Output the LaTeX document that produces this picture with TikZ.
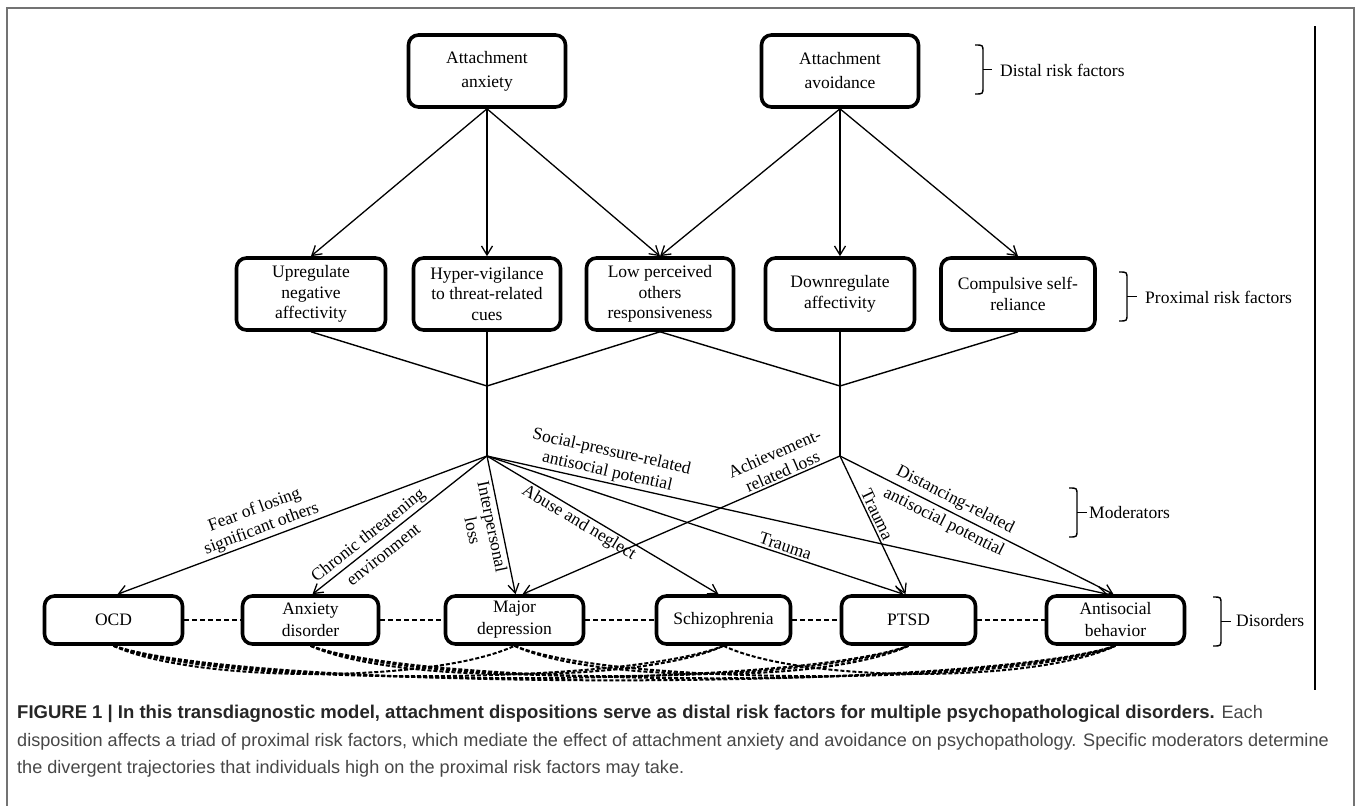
\documentclass[tikz,border=0pt]{standalone}
\usepackage{fontspec}
\setmainfont{Liberation Serif}
\newfontfamily\capfont{Liberation Sans}
\usetikzlibrary{arrows.meta,calc}
\newcommand\mybrace[4]{% x, top, bottom, tick end
  \draw[brk] ({#1-8},#2) .. controls ({#1},#2) .. ({#1},{#2+7}) -- ({#1},{#3-7}) .. controls ({#1},#3) .. ({#1-8},#3);
  \draw[brk] (#1,{(#2+#3)/2}) -- (#4,{(#2+#3)/2});
}
\begin{document}
\begin{tikzpicture}[x=1pt,y=-1pt,
 box/.style={draw, line width=3.6pt, rounded corners=10pt, align=center, inner sep=2pt, font=\fontsize{17.5}{20.5}\selectfont},
 topbox/.style={box, font=\fontsize{17.5}{24}\selectfont},
 disbox/.style={box, font=\fontsize{17.5}{22}\selectfont},
 conn/.style={line width=1.4pt},
 arr/.style={line width=1.3pt, -{Straight Barb[length=9pt,width=11pt,line width=1.3pt]}},
 lab/.style={font=\fontsize{17.5}{20}\selectfont, align=center, sloped, inner sep=2pt},
 labc/.style={font=\fontsize{17.5}{25}\selectfont, align=center, sloped, inner sep=0pt},
 hdash/.style={line width=1.3pt, dash pattern=on 5pt off 3pt},
 cdash/.style={line width=2pt, dash pattern=on 4pt off 2pt},
 brk/.style={line width=1.4pt},
 side/.style={font=\fontsize{17.5}{20}\selectfont, anchor=west, inner sep=0pt},
 capt/.style={font=\capfont\fontsize{18.1}{22}\selectfont, anchor=base west, inner sep=0pt, text=black!72}
]
\fill[white] (0,0) rectangle (1358,806);
\useasboundingbox (0,0) rectangle (1358,806);
% frame
\draw[black!55, line width=1.5pt] (7,806) -- (7,8) -- (1354,8) -- (1354,806);
\draw[line width=1.5pt] (1315,26) -- (1315,690);

% distal
\node[topbox, minimum width=157, minimum height=72] (anx) at (487,71) {Attachment\\anxiety};
\node[topbox, minimum width=157, minimum height=72] (avo) at (840,71) {Attachment\\avoidance};

% proximal
\node[box, minimum width=149, minimum height=72] (up)  at (311,294) {Upregulate\\negative\\affectivity};
\node[box, minimum width=147, minimum height=72] (hyp) at (487,294) {Hyper-vigilance\\to threat-related\\cues};
\node[box, minimum width=147, minimum height=72] (low) at (660,294) {Low perceived\\others\\responsiveness};
\node[box, minimum width=149, minimum height=72] (dwn) at (840,294) {Downregulate\\affectivity};
\node[box, minimum width=154, minimum height=72] (cmp) at (1018,294) {Compulsive self-\\reliance};

% disorders
\node[disbox, minimum width=138, minimum height=48] (ocd)  at (113.5,620) {OCD};
\node[disbox, minimum width=136, minimum height=48] (anxd) at (310.5,620) {Anxiety\\disorder};
\node[disbox, minimum width=138, minimum height=48] (maj)  at (514.5,620) {Major\\depression};
\node[disbox, minimum width=134, minimum height=48] (sch)  at (723.5,620) {Schizophrenia};
\node[disbox, minimum width=134, minimum height=48] (pts)  at (908.5,620) {PTSD};
\node[disbox, minimum width=138, minimum height=48] (ant)  at (1115.5,620) {Antisocial\\behavior};

% junctions
\coordinate (jL) at (487,386);
\coordinate (jR) at (840,386);
\coordinate (fL) at (487,456);
\coordinate (fR) at (840,456);

% distal -> proximal
\draw[arr] (anx.south) -- (up.north);
\draw[arr] (anx.south) -- (hyp.north);
\draw[arr] (anx.south) -- (low.north);
\draw[arr] (avo.south) -- (low.north);
\draw[arr] (avo.south) -- (dwn.north);
\draw[arr] (avo.south) -- (cmp.north);

% proximal -> junctions
\draw[conn] (up.south) -- (jL);
\draw[conn] (hyp.south) -- (jL);
\draw[conn] (low.south) -- (jL);
\draw[conn] (low.south) -- (jR);
\draw[conn] (dwn.south) -- (jR);
\draw[conn] (cmp.south) -- (jR);
\draw[conn] (jL) -- (fL);
\draw[conn] (jR) -- (fR);

% moderators
\draw[arr] (fL) -- ([xshift=4]ocd.north) node[lab, above, pos=0.6] {Fear of losing\\significant others};
\draw[arr] (fL) -- ([xshift=2]anxd.north) node[labc, pos=0.64] {Chronic threatening\\environment};
\draw[arr] (fL) -- ([xshift=1]maj.north) node[lab, below, pos=0.5] {Interpersonal\\loss};
\draw[arr] (fL) -- ([xshift=-5]sch.north) node[lab, below, pos=0.42] {Abuse and neglect};
\draw[arr] (fL) -- ([xshift=-5]pts.north) node[lab, above, pos=0.71] {Trauma};
\draw[arr] (fL) -- ([xshift=-8]ant.north) node[lab, above, pos=0.19] {Social-pressure-related\\antisocial potential};
\draw[arr] (fR) -- ([xshift=8]maj.north) node[lab, above, pos=0.17] {Achievement-\\related loss};
\draw[arr] (fR) -- ([xshift=-3]pts.north) node[lab, above, pos=0.45] {Trauma};
\draw[arr] (fR) -- ([xshift=-2]ant.north) node[labc, pos=0.4] {Distancing-related\\antisocial potential};

% dashed links
\draw[hdash] (ocd.east) -- (anxd.west);
\draw[hdash] (anxd.east) -- (maj.west);
\draw[hdash] (maj.east) -- (sch.west);
\draw[hdash] (sch.east) -- (pts.west);
\draw[hdash] (pts.east) -- (ant.west);
\foreach \a/\b/\s in {ocd/maj/401, ocd/sch/610, ocd/pts/795, ocd/ant/1002, anxd/sch/413, anxd/pts/598, anxd/ant/805, maj/pts/394, maj/ant/601, sch/ant/392}
  \draw[cdash] (\a.south) .. controls +({40+0.1*\s},{32+0.014*\s}) and +({-40-0.1*\s},{32+0.014*\s}) .. (\b.south);

% level labels
\mybrace{983}{45}{94}{992}
\node[side] (dist) at (1000,70) {Distal risk factors};
\mybrace{1127}{272}{321}{1137}
\node[side] (prox) at (1145,297) {Proximal risk factors};
\mybrace{1077}{488}{537}{1087}
\node[side] (mod) at (1089,513) {Moderators};
\mybrace{1221}{597}{646}{1231}
\node[side] (dis) at (1236,621) {Disorders};

% caption
\node[capt] (c1) at (17,718) {\textbf{\fontsize{18.5}{22}\selectfont\color{black!85}FIGURE 1 | In this transdiagnostic model, attachment dispositions serve as distal risk factors for multiple psychopathological disorders.} Each};
\node[capt] (c2) at (17,746) {disposition affects a triad of proximal risk factors, which mediate the effect of attachment anxiety and avoidance on psychopathology. Specific moderators determine};
\node[capt] (c3) at (17,773) {the divergent trajectories that individuals high on the proximal risk factors may take.};
\end{tikzpicture}
\end{document}
